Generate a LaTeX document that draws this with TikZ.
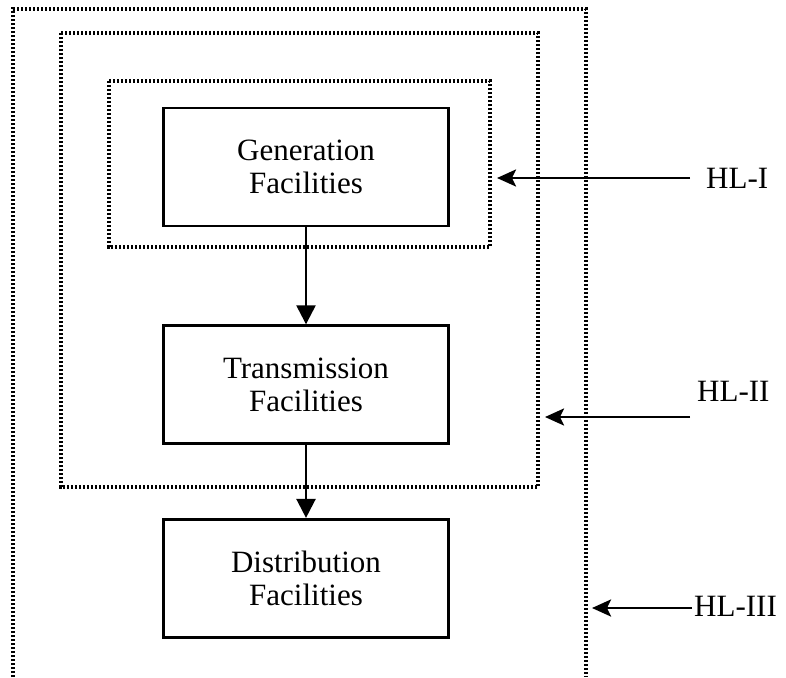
\documentclass[tikz,border=0pt]{standalone}
\usepackage{fontspec}
\setmainfont{Liberation Serif}
\usepackage{tikz}
\usetikzlibrary{arrows.meta, positioning}

\begin{document}
\begin{tikzpicture}[
  x=1pt, y=-1pt,
  facility/.style={rectangle, draw, line width=2.6pt, minimum width=285pt,
              minimum height=118pt, align=center, inner sep=0pt,
              font=\fontsize{31}{33}\selectfont},
  level/.style={draw, line width=3.2pt, dash pattern=on 2.4pt off 1.6pt},
  hl/.style={font=\fontsize{31}{33}\selectfont, inner sep=0pt},
  arrow/.style={-{Stealth[length=19pt, width=17pt, inset=4pt]}, line width=2.6pt},
  down/.style={-{Triangle[length=19pt, width=19pt]}, line width=2.4pt}
]
\useasboundingbox (0,0) rectangle (786,677);

% hierarchical levels
\draw[level] (13,677) -- (13,9) -- (586,9) -- (586,677);
\draw[level] (61,33) rectangle (538,487);
\draw[level] (109,81) rectangle (490,247);

\node[facility] at (306,167) (gen) {Generation\\Facilities};
\node[facility, below=97pt of gen] (trans) {Transmission\\Facilities};
\node[facility, below=73pt of trans] (dist) {Distribution\\Facilities};

\draw[down] (gen.south) -- (trans.north);
\draw[down] (trans.south) -- (dist.north);

\node[hl, anchor=west] at (706,178) (hl1) {HL-I};
\node[hl, anchor=west] at (697,391) (hl2) {HL-II};
\node[hl, anchor=west] at (694,606) (hl3) {HL-III};

\coordinate (hl1tip) at (497,178);
\coordinate (hl2tail) at (690,417);
\coordinate (hl2tip) at (545,417);
\coordinate (hl3tip) at (592,608);

\draw[arrow] ([xshift=-16pt]hl1.west) -- (hl1tip);
\draw[arrow] (hl2tail) -- (hl2tip);
\draw[arrow] ([xshift=-2pt]hl3.west |- hl3tip) -- (hl3tip);

\end{tikzpicture}
\end{document}
